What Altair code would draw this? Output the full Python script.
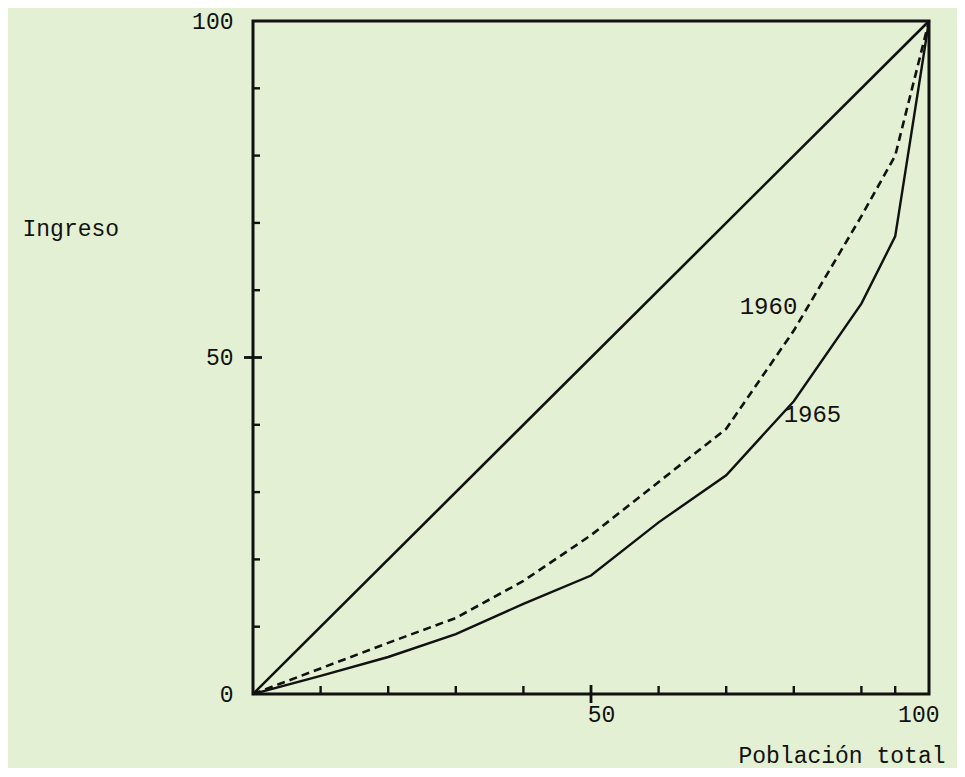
import altair as alt
import pandas as pd

# Data (Lorenz curves, % of population vs % of income)
poblacion = [0, 10, 20, 30, 40, 50, 60, 70, 80, 90, 95, 100]
ingreso_1960 = [0, 3.8, 7.6, 11.3, 16.8, 23.6, 31.5, 39.4, 54, 71, 80, 100]
ingreso_1965 = [0, 2.7, 5.5, 8.9, 13.4, 17.6, 25.5, 32.5, 43.5, 58, 68, 100]
igualdad_x = [0, 100]
igualdad_y = [0, 100]

x_ticks = [10, 20, 30, 40, 60, 70, 80, 90, 95]
y_ticks = [10, 20, 30, 40, 60, 70, 80, 90]
eje_medio = [50]

etiquetas = ["1960", "1965"]
etiqueta_x = [72.0, 78.5]
etiqueta_y = [57.5, 41.5]

W, H = 676, 673
FONT = "Liberation Mono"
INK = "#111111"

df60 = pd.DataFrame({"pob": poblacion, "ing": ingreso_1960})
df65 = pd.DataFrame({"pob": poblacion, "ing": ingreso_1965})
dfeq = pd.DataFrame({"pob": igualdad_x, "ing": igualdad_y})
dfticks = pd.DataFrame({
    "marca": x_ticks + y_ticks,
    "eje": ["x"] * len(x_ticks) + ["y"] * len(y_ticks),
})
dfmid = pd.DataFrame({"v": eje_medio})
dflab = pd.DataFrame({"t": etiquetas, "lx": etiqueta_x, "ly": etiqueta_y})

xs = alt.Scale(domain=[0, 100], nice=False, zero=False)
ys = alt.Scale(domain=[0, 100], nice=False, zero=False)

x_axis = alt.Axis(
    values=[50, 100], ticks=False, domain=False, grid=False,
    labelPadding=9, labelOffset=10, labelFont=FONT, labelFontSize=23, labelColor=INK,
    title="Población total", titleFont=FONT, titleFontSize=23,
    titleFontWeight="normal", titleColor=INK, titleAlign="right",
    titleX=692, titleY=61, titleBaseline="middle", titleAnchor="end",
)
y_axis = alt.Axis(
    values=[0, 50, 100], ticks=False, domain=False, grid=False,
    labelPadding=20, labelFont=FONT, labelFontSize=23, labelColor=INK,
    title="Ingreso", titleFont=FONT, titleFontSize=23,
    titleFontWeight="normal", titleColor=INK, titleAngle=0,
    titleAlign="left", titleBaseline="middle", titleX=-231, titleY=207,
)

base_eq = alt.Chart(dfeq).mark_line(color=INK, strokeWidth=2.6).encode(
    x=alt.X("pob:Q", scale=xs, axis=x_axis),
    y=alt.Y("ing:Q", scale=ys, axis=y_axis),
)
line60 = alt.Chart(df60).mark_line(color=INK, strokeWidth=2.6, strokeDash=[8, 5]).encode(
    x=alt.X("pob:Q", scale=xs), y=alt.Y("ing:Q", scale=ys)
)
line65 = alt.Chart(df65).mark_line(color=INK, strokeWidth=2.4).encode(
    x=alt.X("pob:Q", scale=xs), y=alt.Y("ing:Q", scale=ys)
)

ticks_base = alt.Chart(dfticks)
xt = ticks_base.transform_filter(alt.datum.eje == "x").mark_rule(
    color=INK, strokeWidth=2.4
).encode(
    x=alt.X("marca:Q", scale=xs), y=alt.value(H - 8), y2=alt.value(H)
)
yt = ticks_base.transform_filter(alt.datum.eje == "y").mark_rule(
    color=INK, strokeWidth=2.4
).encode(
    y=alt.Y("marca:Q", scale=ys), x=alt.value(0), x2=alt.value(7)
)
xmid = alt.Chart(dfmid).mark_rule(color=INK, strokeWidth=2.8).encode(
    x=alt.X("v:Q", scale=xs), y=alt.value(H - 9), y2=alt.value(H + 9)
)
ymid = alt.Chart(dfmid).mark_rule(color=INK, strokeWidth=2.8).encode(
    y=alt.Y("v:Q", scale=ys), x=alt.value(-9), x2=alt.value(9)
)

labels = alt.Chart(dflab).mark_text(
    align="left", baseline="middle", font=FONT, fontSize=24, color=INK
).encode(x=alt.X("lx:Q", scale=xs), y=alt.Y("ly:Q", scale=ys), text="t:N")

chart = alt.layer(base_eq, line60, line65, xt, yt, xmid, ymid, labels).properties(
    width=W, height=H,
    autosize=alt.AutoSizeParams(type="none"),
    padding={"left": 245, "top": 13, "right": 28, "bottom": 74},
    background="#e3f0d3",
).configure_view(stroke=INK, strokeWidth=3)

chart.save("out.html", embed_options={"renderer": "svg", "actions": False})
